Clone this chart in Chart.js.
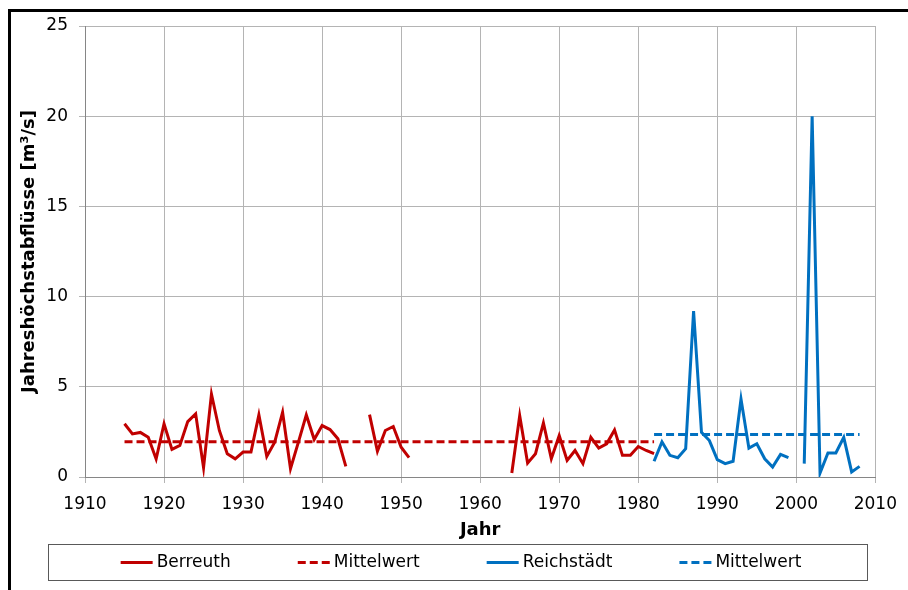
<!DOCTYPE html>
<html>
<head>
<meta charset="utf-8">
<script src="https://cdn.jsdelivr.net/npm/chart.js@4"></script>
<style>
  html, body { margin: 0; padding: 0; background: #fff; }
  #frame { position: absolute; left: 8px; top: 9px; width: 920px; height: 600px;
           border-left: 3px solid #000; border-top: 3px solid #000; }
  #chart { position: absolute; left: 0; top: 0; }
</style>
</head>
<body>
<div id="frame"></div>
<canvas id="chart" width="908" height="590"></canvas>
<script>
// Jahreshöchstabflüsse
const berreuthYears = [
  1915, 1916, 1917, 1918, 1919, 1920, 1921, 1922, 1923, 1924,
  1925, 1926, 1927, 1928, 1929, 1930, 1931, 1932, 1933, 1934,
  1935, 1936, 1937, 1938, 1939, 1940, 1941, 1942, 1943, 1944,
  1945, 1946, 1947, 1948, 1949, 1950, 1951, 1952, 1953, 1954,
  1955, 1956, 1957, 1958, 1959, 1960, 1961, 1962, 1963, 1964,
  1965, 1966, 1967, 1968, 1969, 1970, 1971, 1972, 1973, 1974,
  1975, 1976, 1977, 1978, 1979, 1980, 1981, 1982
];
const berreuthFlow = [
  2.95, 2.39, 2.47, 2.2, 1.0, 2.95, 1.53, 1.75, 3.07, 3.5,
  0.52, 4.6, 2.58, 1.29, 1.01, 1.38, 1.38, 3.44, 1.14, 1.93,
  3.59, 0.46, 1.93, 3.44, 2.08, 2.85, 2.63, 2.12, 0.59, null,
  null, 3.46, 1.43, 2.58, 2.8, 1.65, 1.07, null, null, null,
  null, null, null, null, null, null, null, null, null, 0.22,
  3.4, 0.77, 1.29, 3.0, 1.01, 2.3, 0.92, 1.47, 0.74, 2.2,
  1.6, 1.84, 2.61, 1.2, 1.2, 1.69, 1.47, 1.29
];
const berreuthMeanYears = [1915, 1982];
const berreuthMean = 1.96;

const reichYears = [
  1982, 1983, 1984, 1985, 1986, 1987, 1988, 1989, 1990, 1991,
  1992, 1993, 1994, 1995, 1996, 1997, 1998, 1999, 2000, 2001,
  2002, 2003, 2004, 2005, 2006, 2007, 2008
];
const reichFlow = [
  0.87, 1.95, 1.2, 1.07, 1.57, 9.2, 2.48, 2.02, 0.96, 0.74,
  0.87, 4.32, 1.6, 1.84, 1.01, 0.55, 1.25, 1.07, null, 0.74,
  20.0, 0.22, 1.33, 1.33, 2.2, 0.28, 0.59
];
const reichMeanYears = [1982, 2008];
const reichMean = 2.35;

const seriesNames = ["Berreuth", "Mittelwert", "Reichstädt", "Mittelwert"];
const xTicks = [1910, 2010, 10];
const yTicks = [0, 25, 5];

const RED = "#C00000";
const BLUE = "#0070C0";
const FONT = "DejaVu Sans";

const toPoints = (xs, ys) => xs.map((x, i) => ({ x: x, y: ys[i] }));
const flat = (xs, v) => xs.map(x => ({ x: x, y: v }));

// legend in a framed box below the axis title
const boxLegend = {
  id: "boxLegend",
  afterDraw(chart, args, o) {
    const ctx = chart.ctx;
    ctx.save();
    ctx.strokeStyle = "#595959";
    ctx.lineWidth = 1;
    ctx.strokeRect(o.left + 0.5, o.top + 0.5, o.width, o.height);
    ctx.font = "17px '" + FONT + "'";
    ctx.textBaseline = "middle";
    const items = chart.data.datasets.map(ds => ({
      ds: ds,
      w: o.sample + o.gap + ctx.measureText(ds.label).width
    }));
    const total = items.reduce((s, it) => s + it.w, 0) + o.spacing * (items.length - 1);
    let x = o.center - total / 2;
    const y = o.top + o.height / 2 + 0.5;
    items.forEach(it => {
      ctx.strokeStyle = it.ds.borderColor;
      ctx.lineWidth = it.ds.borderWidth;
      ctx.setLineDash(it.ds.borderDash || []);
      ctx.beginPath();
      ctx.moveTo(x, y);
      ctx.lineTo(x + o.sample, y);
      ctx.stroke();
      ctx.setLineDash([]);
      ctx.fillStyle = "#000";
      ctx.fillText(it.ds.label, x + o.sample + o.gap, y);
      x += it.w + o.spacing;
    });
    ctx.restore();
  }
};

new Chart(document.getElementById("chart"), {
  type: "line",
  data: {
    datasets: [
      { label: seriesNames[0], data: toPoints(berreuthYears, berreuthFlow),
        borderColor: RED, borderWidth: 3 },
      { label: seriesNames[1], data: flat(berreuthMeanYears, berreuthMean),
        borderColor: RED, borderWidth: 3, borderDash: [8, 4] },
      { label: seriesNames[2], data: toPoints(reichYears, reichFlow),
        borderColor: BLUE, borderWidth: 3 },
      { label: seriesNames[3], data: flat(reichMeanYears, reichMean),
        borderColor: BLUE, borderWidth: 3, borderDash: [8, 4] }
    ]
  },
  options: {
    responsive: false,
    animation: false,
    spanGaps: false,
    elements: { point: { radius: 0 }, line: { tension: 0 } },
    layout: { padding: { left: 0, right: 32, top: 26, bottom: 45 } },
    scales: {
      x: {
        type: "linear",
        min: xTicks[0], max: xTicks[1],
        afterFit: s => { s.height = 68; },
        grid: { color: "#b4b4b4", tickLength: 6 },
        border: { color: "#868686" },
        ticks: {
          stepSize: xTicks[2], autoSkip: false, maxRotation: 0, padding: 11,
          color: "#000", font: { family: FONT, size: 17 },
          callback: v => String(v)
        },
        title: {
          display: true, text: "Jahr", color: "#000",
          font: { family: FONT, size: 18, weight: "bold" },
          padding: { top: 0, bottom: 4 }
        }
      },
      y: {
        min: yTicks[0], max: yTicks[1],
        afterFit: s => { s.width = 85; },
        grid: { color: "#b4b4b4", tickLength: 6 },
        border: { color: "#868686" },
        ticks: {
          stepSize: yTicks[2], padding: 11,
          color: "#000", font: { family: FONT, size: 17 }
        },
        title: {
          display: true, text: "Jahreshöchstabflüsse [m³/s]", color: "#000",
          font: { family: FONT, size: 18, weight: "bold" },
          padding: { top: 19, bottom: 0 }
        }
      }
    },
    plugins: {
      legend: { display: false },
      tooltip: { enabled: false },
      boxLegend: {
        left: 48, top: 544, width: 819, height: 36,
        center: 461, sample: 32, gap: 4, spacing: 67
      }
    }
  },
  plugins: [boxLegend]
});
</script>
</body>
</html>
